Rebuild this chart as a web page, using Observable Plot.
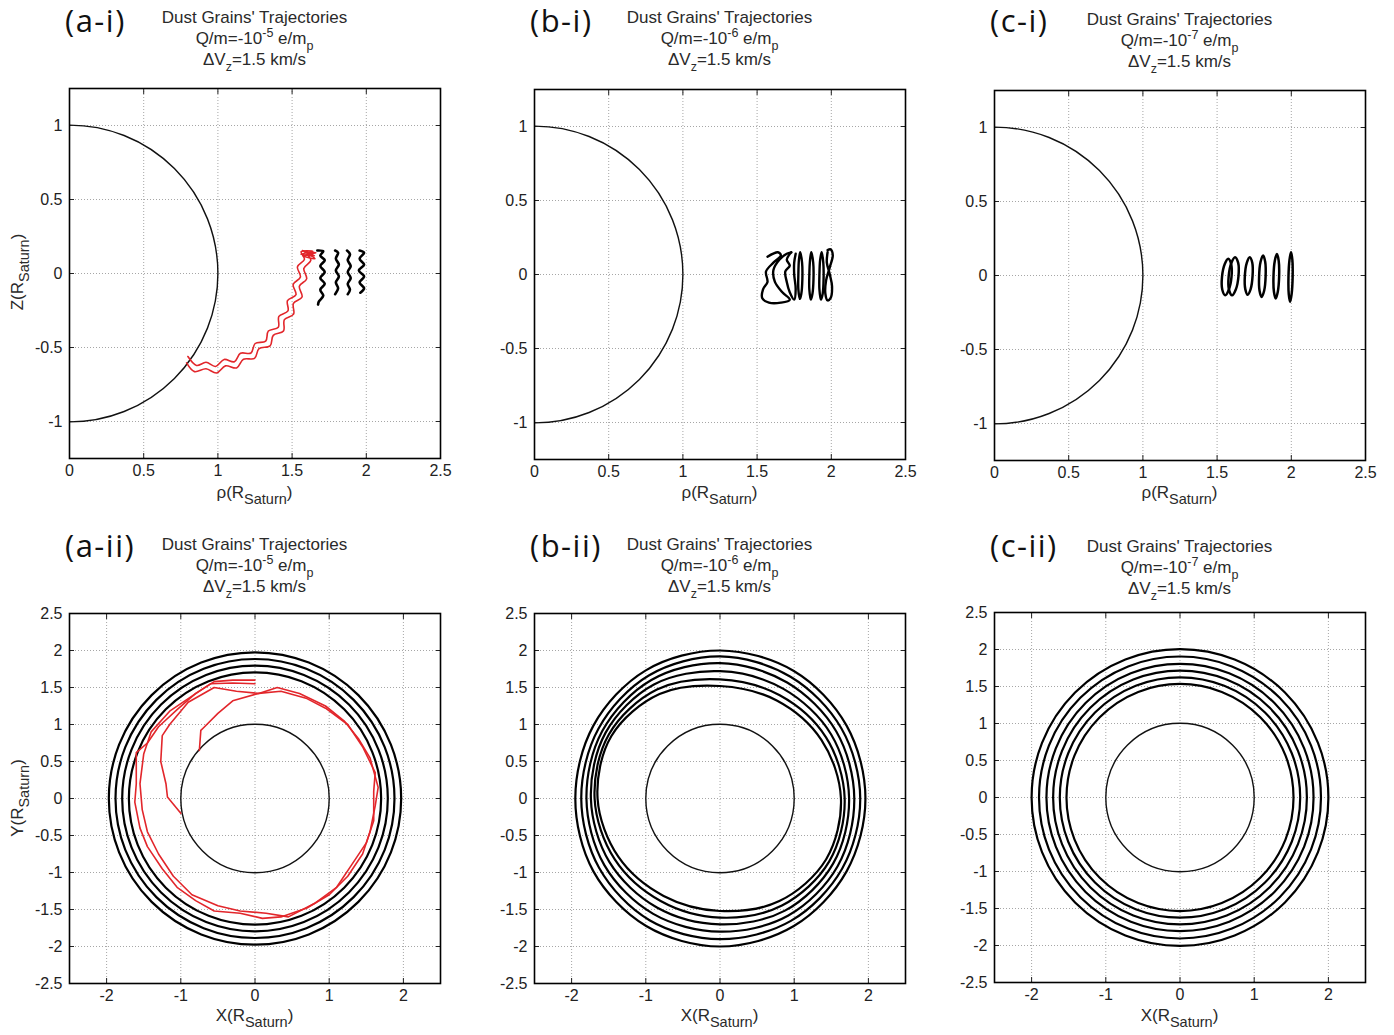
<!DOCTYPE html>
<html><head><meta charset="utf-8">
<script src="https://cdn.jsdelivr.net/npm/d3@7"></script>
<script src="https://cdn.jsdelivr.net/npm/@observablehq/plot@0.6"></script>
<style>
body{margin:0;background:#fff;}
#wrap{position:relative;width:1394px;height:1035px;overflow:hidden;background:#fff;font-family:"Liberation Sans",Arial,sans-serif;color:#2a2a2a;}
.pl{position:absolute;}
.tag{position:absolute;font-family:"Open Sans",sans-serif;font-size:31px;letter-spacing:1.5px;color:#111;line-height:1;white-space:nowrap;}
.ttl{position:absolute;width:320px;text-align:center;font-size:17px;line-height:21px;white-space:nowrap;}
.ttl sup,.ttl sub,.lab sub{font-size:12.5px;line-height:0;}
.ttl sub{vertical-align:-6px;}
.lab{position:absolute;font-size:17px;white-space:nowrap;transform:translate(-50%,-50%);}
.lab sub{vertical-align:-6px;font-size:14.5px;}
.lab.rot{transform:translate(-50%,-50%) rotate(-90deg);}
</style></head>
<body><div id="wrap"></div>
<script>
// ---------------- data ----------------
const panelTags = ["(a-i)", "(b-i)", "(c-i)", "(a-ii)", "(b-ii)", "(c-ii)"];
const qmExponents = ["-5", "-6", "-7"];
const dVz = "1.5";
const topXTicks = [0, 0.5, 1, 1.5, 2, 2.5];
const topYTicks = [-1, -0.5, 0, 0.5, 1];
const botXTicks = [-2, -1, 0, 1, 2];
const botYTicks = [-2.5, -2, -1.5, -1, -0.5, 0, 0.5, 1, 1.5, 2, 2.5];
const saturn = [{cx: 0, cy: 0, r: 1}];

// (a-i) rho-Z trajectories
const aiRedA = [[0.798,-0.561],[0.856,-0.621],[0.92,-0.60],[0.984,-0.628],[1.042,-0.581],[1.111,-0.596],[1.152,-0.539],[1.223,-0.537],[1.251,-0.473],[1.322,-0.457],[1.34,-0.389],[1.407,-0.363],[1.411,-0.290],[1.472,-0.253],[1.469,-0.183],[1.526,-0.144],[1.507,-0.074],[1.556,-0.024],[1.536,0.045],[1.583,0.096],[1.561,0.147],[1.64,0.15],[1.56,0.13],[1.65,0.12],[1.57,0.155]];
const aiRedB = [[0.789,-0.604],[0.842,-0.663],[0.92,-0.644],[0.991,-0.672],[1.051,-0.624],[1.126,-0.638],[1.172,-0.579],[1.247,-0.574],[1.277,-0.508],[1.352,-0.489],[1.373,-0.418],[1.442,-0.389],[1.448,-0.312],[1.51,-0.275],[1.509,-0.202],[1.567,-0.159],[1.549,-0.086],[1.598,-0.036],[1.579,0.034],[1.626,0.088],[1.604,0.139],[1.66,0.14],[1.575,0.12],[1.655,0.10],[1.58,0.15]];
const aiBlack = [
  [[1.67,0.155],[1.71,0.15],[1.69,0.12],[1.72,0.09],[1.69,0.05],[1.72,0.01],[1.69,-0.03],[1.72,-0.07],[1.69,-0.11],[1.71,-0.15],[1.68,-0.19],[1.675,-0.21]],
  [[1.79,0.155],[1.81,0.14],[1.795,0.10],[1.815,0.06],[1.795,0.02],[1.815,-0.02],[1.795,-0.06],[1.81,-0.10],[1.79,-0.14]],
  [[1.87,0.155],[1.89,0.13],[1.875,0.09],[1.895,0.05],[1.875,0.01],[1.895,-0.03],[1.875,-0.07],[1.89,-0.11],[1.875,-0.14]],
  [[1.955,0.155],[1.985,0.14],[1.955,0.10],[1.985,0.06],[1.95,0.02],[1.985,-0.02],[1.955,-0.06],[1.985,-0.10],[1.96,-0.13]]
];
// (b-i)
const biOpen = [
  [[1.57,0.12],[1.64,0.15],[1.66,0.13],[1.61,0.08],[1.56,0.02],[1.57,-0.05],[1.54,-0.10],[1.535,-0.16],[1.58,-0.19],[1.66,-0.19],[1.72,-0.17],[1.67,-0.12],[1.62,-0.05],[1.61,0.03],[1.65,0.10],[1.70,0.14],[1.73,0.15]],
  [[1.73,0.15],[1.70,0.10],[1.72,0.06],[1.69,0.02],[1.70,-0.05],[1.72,-0.12],[1.75,-0.17],[1.76,-0.10],[1.75,0.0],[1.75,0.08],[1.76,0.14]],
  [[1.975,0.165],[1.995,0.17],[2.01,0.13],[1.99,0.05],[1.965,-0.04],[1.96,-0.13],[1.975,-0.175],[1.995,-0.16],[2.005,-0.08],[1.99,0.0],[1.97,0.08],[1.975,0.15]]
];
const biClosed = [
  [[1.79,0.15],[1.803,0.08],[1.805,-0.03],[1.798,-0.13],[1.788,-0.165],[1.778,-0.1],[1.778,0.0],[1.782,0.1]],
  [[1.865,0.15],[1.878,0.08],[1.88,-0.03],[1.873,-0.13],[1.862,-0.17],[1.852,-0.1],[1.852,0.0],[1.857,0.1]],
  [[1.935,0.15],[1.946,0.08],[1.948,-0.03],[1.942,-0.13],[1.93,-0.17],[1.92,-0.1],[1.92,0.0],[1.925,0.1]]
];
// (c-i)
const ciLoops = [
  [[1.575,0.113],[1.595,0.076],[1.597,-0.01],[1.579,-0.096],[1.555,-0.133],[1.535,-0.096],[1.533,-0.01],[1.551,0.076]],
  [[1.621,0.124],[1.642,0.085],[1.644,-0.005],[1.626,-0.095],[1.601,-0.134],[1.580,-0.095],[1.578,-0.005],[1.596,0.085]],
  [[1.720,0.124],[1.737,0.086],[1.739,-0.003],[1.726,-0.092],[1.706,-0.13],[1.690,-0.092],[1.687,-0.003],[1.700,0.086]],
  [[1.810,0.135],[1.824,0.093],[1.827,-0.005],[1.817,-0.103],[1.800,-0.145],[1.786,-0.103],[1.783,-0.005],[1.793,0.093]],
  [[1.903,0.146],[1.915,0.10],[1.918,-0.005],[1.909,-0.11],[1.895,-0.156],[1.883,-0.11],[1.880,-0.005],[1.889,0.10]],
  [[1.998,0.157],[2.007,0.107],[2.009,-0.01],[2.002,-0.127],[1.992,-0.177],[1.983,-0.127],[1.981,-0.01],[1.988,0.107]]
];
// (a-ii) X-Y
const aiiRings = [1.97, 1.88, 1.79, 1.70];
const aiiRed1 = [[0,1.6],[-0.3,1.6],[-0.55,1.58],[-0.8,1.42],[-1.05,1.2],[-1.3,0.97],[-1.45,0.75],[-1.6,0.62],[-1.6,0.2],[-1.62,-0.05],[-1.55,-0.4],[-1.45,-0.65],[-1.25,-0.95],[-1.05,-1.2],[-0.8,-1.38],[-0.55,-1.52],[-0.2,-1.55],[0.1,-1.62],[0.35,-1.6],[0.7,-1.48],[1.0,-1.3],[1.25,-1.05],[1.45,-0.75],[1.55,-0.45],[1.62,-0.1],[1.66,0.15],[1.55,0.55],[1.4,0.8],[1.2,1.05],[0.95,1.25],[0.6,1.42],[0.3,1.5],[0.05,1.42],[-0.25,1.45],[-0.55,1.5],[-0.9,1.3],[-1.15,1.0],[-1.25,0.85],[-1.27,0.5],[-1.2,0.2],[-1.18,0.02],[-1.0,-0.2]];
const aiiRed2 = [[0,1.55],[-0.3,1.56],[-0.6,1.55],[-0.9,1.35],[-1.15,1.18],[-1.4,0.9],[-1.5,0.6],[-1.55,0.2],[-1.52,-0.15],[-1.45,-0.45],[-1.3,-0.75],[-1.1,-1.05],[-0.85,-1.3],[-0.5,-1.45],[-0.2,-1.52],[0.15,-1.55],[0.45,-1.6],[0.8,-1.42],[1.1,-1.2],[1.3,-0.9],[1.5,-0.6],[1.6,-0.3],[1.6,0.1],[1.62,0.35],[1.45,0.7],[1.25,1.0],[0.95,1.22],[0.7,1.35],[0.35,1.45],[0.05,1.42],[-0.3,1.32],[-0.5,1.15],[-0.7,0.95],[-0.73,0.92],[-0.75,0.65]];
// (b-ii) ring radius read at each direction (degrees)
const biiAngles = [90, 60, 30, 0, -30, -60, -90, -120, -150, 180, 150, 120];
const biiRadii = [
  [2.00, 1.99, 1.97, 1.96, 1.97, 1.99, 2.00, 1.99, 1.97, 1.95, 1.97, 2.00],
  [1.92, 1.90, 1.89, 1.89, 1.90, 1.91, 1.90, 1.90, 1.88, 1.87, 1.89, 1.92],
  [1.83, 1.81, 1.81, 1.81, 1.83, 1.83, 1.80, 1.80, 1.80, 1.80, 1.83, 1.85],
  [1.72, 1.71, 1.73, 1.74, 1.76, 1.75, 1.70, 1.70, 1.72, 1.74, 1.78, 1.78],
  [1.61, 1.61, 1.65, 1.68, 1.70, 1.67, 1.61, 1.60, 1.64, 1.69, 1.73, 1.70],
  [1.52, 1.53, 1.58, 1.63, 1.65, 1.60, 1.52, 1.52, 1.58, 1.65, 1.69, 1.63]
];
// (c-ii)
const ciiRings = [2.0, 1.9, 1.8, 1.71, 1.62, 1.53];

// ---------------- layout ----------------
const W = 451, H = 420, ML = 60, MR = 20, MT = 12, MB = 38;
const frameLeft = [69, 534, 994];
const frameTopRow1 = [88, 89, 90];
const frameTopRow2 = [613, 613, 612];
const RED = "#e2262b";

const rows = (arrs) => arrs.flatMap((pts, i) => pts.map(([x, y]) => ({id: i, x, y})));
const fmt = d => String(d);
const gridStyle = {stroke: "#9c9c9c", strokeOpacity: 1, strokeWidth: 0.9, strokeDasharray: "1,2"};

function panel(o) {
  const fw = W - ML - MR;
  const ppu = fw / (o.xDomain[1] - o.xDomain[0]);
  return Plot.plot({
    width: W, height: H, marginLeft: ML, marginRight: MR, marginTop: MT, marginBottom: MB,
    x: {domain: o.xDomain},
    y: {domain: o.yDomain},
    r: {type: "linear", domain: [0, 1], range: [0, ppu]},
    style: {fontFamily: "'Liberation Sans', Arial, sans-serif", fontSize: "16px", color: "#222", background: "white", overflow: "visible"},
    marks: [
      Plot.gridX(o.xTicks, gridStyle),
      Plot.gridY(o.yTicks, gridStyle),
      ...o.marks(ppu),
      Plot.axisX(o.xTicks, {anchor: "bottom", tickSize: -5, tickPadding: 11, tickFormat: fmt, label: null, fontSize: 16}),
      Plot.axisX(o.xTicks, {anchor: "top", tickSize: -5, tickFormat: () => "", label: null}),
      Plot.axisY(o.yTicks, {anchor: "left", tickSize: -5, tickPadding: 12, tickFormat: fmt, label: null, fontSize: 16}),
      Plot.axisY(o.yTicks, {anchor: "right", tickSize: -5, tickFormat: () => "", label: null}),
      Plot.frame({stroke: "#000", strokeWidth: 1.6})
    ]
  });
}

const saturnMark = Plot.dot(saturn, {x: "cx", y: "cy", r: "r", stroke: "#111", fill: "none", strokeWidth: 1.4, clip: true});
const topCommon = {xDomain: [0, 2.5], yDomain: [-1.25, 1.25], xTicks: topXTicks, yTicks: topYTicks};
const botCommon = {xDomain: [-2.5, 2.5], yDomain: [-2.5, 2.5], xTicks: botXTicks, yTicks: botYTicks};

const panels = [
  {...topCommon, marks: () => [
    saturnMark,
    Plot.line(rows(aiBlack), {x: "x", y: "y", z: "id", curve: "catmull-rom", stroke: "#000", strokeWidth: 2.6}),
    Plot.line(rows([aiRedA, aiRedB]), {x: "x", y: "y", z: "id", curve: "catmull-rom", stroke: RED, strokeWidth: 1.6})
  ]},
  {...topCommon, marks: () => [
    saturnMark,
    Plot.line(rows(biOpen), {x: "x", y: "y", z: "id", curve: "catmull-rom", stroke: "#000", strokeWidth: 2.4}),
    Plot.line(rows(biClosed), {x: "x", y: "y", z: "id", curve: "catmull-rom-closed", stroke: "#000", strokeWidth: 2.4})
  ]},
  {...topCommon, marks: () => [
    saturnMark,
    Plot.line(rows(ciLoops), {x: "x", y: "y", z: "id", curve: "catmull-rom-closed", stroke: "#000", strokeWidth: 2.5})
  ]},
  {...botCommon, marks: () => [
    saturnMark,
    Plot.dot(aiiRings, {x: () => 0, y: () => 0, r: d => d, stroke: "#000", fill: "none", strokeWidth: 2.2}),
    Plot.line(rows([aiiRed1, aiiRed2]), {x: "x", y: "y", z: "id", stroke: RED, strokeWidth: 1.6})
  ]},
  {...botCommon, marks: () => {
    const pts = biiRadii.flatMap((rs, i) => rs.map((r, j) => ({id: i, x: r * Math.cos(biiAngles[j] * Math.PI / 180), y: r * Math.sin(biiAngles[j] * Math.PI / 180)})));
    return [
      saturnMark,
      Plot.line(pts, {x: "x", y: "y", z: "id", curve: "catmull-rom-closed", stroke: "#000", strokeWidth: 2.2})
    ];
  }},
  {...botCommon, marks: () => [
    saturnMark,
    Plot.dot(ciiRings, {x: () => 0, y: () => 0, r: d => d, stroke: "#000", fill: "none", strokeWidth: 2.2})
  ]}
];

const wrap = document.getElementById("wrap");
panels.forEach((p, i) => {
  const col = i % 3, row = Math.floor(i / 3);
  const fl = frameLeft[col];
  const ft = row === 0 ? frameTopRow1[col] : frameTopRow2[col];
  const svg = panel(p);
  svg.classList.add("pl");
  svg.style.left = (fl - ML) + "px";
  svg.style.top = (ft - MT) + "px";
  wrap.appendChild(svg);

  const cx = fl + 185.5;
  const tag = document.createElement("div");
  tag.className = "tag";
  tag.textContent = panelTags[i];
  tag.style.left = (fl - 4) + "px";
  tag.style.top = (row === 0 ? 5 : 530) + "px";
  wrap.appendChild(tag);

  const t = document.createElement("div");
  t.className = "ttl";
  t.style.left = (cx - 160) + "px";
  t.style.top = ((row === 0 ? 7 : 534) + (col === 2 ? 2 : 0)) + "px";
  t.innerHTML = `Dust Grains' Trajectories<br>Q/m=-10<sup>${qmExponents[col]}</sup> e/m<sub>p</sub><br>\u0394V<sub>z</sub>=${dVz} km/s`;
  wrap.appendChild(t);

  const xl = document.createElement("div");
  xl.className = "lab";
  xl.style.left = cx + "px";
  xl.style.top = (row === 0 ? 493 : 1016) + "px";
  xl.innerHTML = (row === 0 ? "\u03c1" : "X") + "(R<sub>Saturn</sub>)";
  wrap.appendChild(xl);

  if (col === 0) {
    const yl = document.createElement("div");
    yl.className = "lab rot";
    yl.style.left = "18px";
    yl.style.top = (row === 0 ? 272 : 798) + "px";
    yl.innerHTML = (row === 0 ? "Z" : "Y") + "(R<sub>Saturn</sub>)";
    wrap.appendChild(yl);
  }
});
</script>
</body></html>
